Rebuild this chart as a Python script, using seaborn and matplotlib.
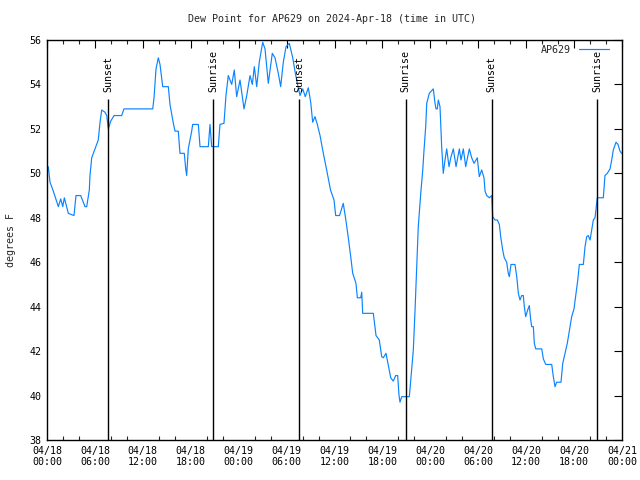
import numpy as np
import pandas as pd
import matplotlib
matplotlib.use("Agg")
import matplotlib.pyplot as plt
import matplotlib.dates as mdates
import seaborn as sns

# ---- data (hours since 2024-04-18 00:00 UTC, dew point in F) ----
hours = [0.16, 0.38, 0.79, 1.42, 1.72, 1.97, 2.17, 2.38, 2.67, 3.38, 3.63, 4.22, 4.76, 4.97,
         5.30, 5.38, 5.60, 6.01, 6.42, 6.64, 6.85, 7.26, 7.48, 7.68, 7.98, 8.39, 9.35, 9.64,
         13.24, 13.40, 13.65, 13.94, 14.15, 14.36, 14.49, 15.19, 15.40, 15.82, 16.03, 16.44,
         16.65, 17.19, 17.37, 17.49, 17.69, 18.12, 18.24, 18.95, 19.16, 20.20, 20.41, 20.62,
         21.45, 21.66, 22.16, 22.41, 22.70, 23.13, 23.45, 23.75, 24.17, 24.67, 25.01, 25.42,
         25.71, 25.96, 26.26, 26.58, 27.01, 27.30, 27.71, 28.21, 28.55, 28.96, 29.26, 29.59,
         29.93, 30.34, 30.77, 31.05, 31.34, 31.68, 32.02, 32.34, 32.72, 33.02, 33.27, 33.56,
         33.85, 34.19, 34.60, 35.02, 35.50, 35.94, 36.15, 36.63, 37.10, 37.42, 37.73, 38.03,
         38.28, 38.69, 38.86, 39.28, 39.41, 39.53, 40.86, 41.20, 41.61, 41.91, 42.11, 42.45,
         42.74, 43.04, 43.36, 43.66, 43.91, 44.08, 44.20, 44.42, 45.37, 45.58, 45.87, 46.08,
         46.29, 46.49, 46.80, 47.05, 47.21, 47.42, 47.55, 47.87, 48.37, 48.59, 48.71, 48.87,
         49.00, 49.21, 49.42, 49.62, 49.84, 50.05, 50.34, 50.59, 50.88, 51.22, 51.63, 51.84,
         52.13, 52.43, 52.88, 53.18, 53.47, 53.88, 54.13, 54.43, 54.72, 54.85, 55.06, 55.39,
         55.69, 55.81, 56.10, 56.39, 56.64, 56.81, 57.06, 57.26, 57.56, 57.76, 57.89, 58.10,
         58.60, 58.82, 59.02, 59.23, 59.44, 59.64, 59.77, 59.94, 60.19, 60.39, 60.57, 60.69,
         60.90, 61.02, 61.20, 61.95, 62.15, 62.45, 63.20, 63.40, 63.61, 63.82, 64.36, 64.58,
         64.86, 65.15, 65.40, 65.70, 65.99, 66.24, 66.46, 66.66, 67.16, 67.37, 67.58, 67.78,
         68.00, 68.21, 68.41, 68.62, 68.83, 68.91, 69.66, 69.87, 70.16, 70.50, 70.71, 70.91,
         71.25, 71.50, 71.75, 71.94]
dewpoint = [50.3, 49.6, 49.2, 48.5, 48.85, 48.5, 48.9, 48.6, 48.2, 48.1, 49.0, 49.0, 48.5, 48.5,
            49.25, 49.9, 50.7, 51.1, 51.5, 52.3, 52.85, 52.75, 52.6, 52.0, 52.35, 52.6, 52.6, 52.9,
            52.9, 53.4, 54.7, 55.2, 54.9, 54.3, 53.9, 53.9, 53.1, 52.25, 51.9, 51.9,
            50.9, 50.9, 50.2, 49.9, 51.1, 51.9, 52.2, 52.2, 51.2, 51.2, 52.2, 51.2,
            51.2, 52.2, 52.25, 53.5, 54.4, 54.0, 54.65, 53.45, 54.2, 52.9, 53.5, 54.4,
            54.0, 54.8, 53.9, 55.0, 55.9, 55.6, 54.05, 55.4, 55.2, 54.5, 53.9, 55.0,
            55.7, 55.85, 55.2, 54.6, 54.05, 53.5, 53.8, 53.45, 53.85, 53.2, 52.3, 52.55,
            52.2, 51.7, 50.9, 50.15, 49.25, 48.8, 48.1, 48.1, 48.65, 47.9, 47.1, 46.25,
            45.5, 45.05, 44.4, 44.4, 44.65, 43.7, 43.7, 42.7, 42.5, 41.75, 41.7, 41.9,
            41.35, 40.8, 40.65, 40.9, 40.9, 40.0, 39.7, 39.95, 39.95, 40.85, 42.05, 43.8,
            45.8, 47.6, 49.1, 50.15, 51.05, 52.1, 53.15, 53.6, 53.8, 53.15, 52.9, 52.9,
            53.3, 53.0, 51.2, 50.0, 50.6, 51.1, 50.3, 50.75, 51.1, 50.3, 51.1, 50.6,
            51.1, 50.3, 51.1, 50.7, 50.45, 50.7, 49.85, 50.15, 49.8, 49.2, 49.0, 48.9,
            49.0, 48.05, 47.9, 47.9, 47.7, 47.15, 46.55, 46.2, 46.0, 45.5, 45.35, 45.9,
            45.9, 45.35, 44.6, 44.3, 44.5, 44.5, 44.0, 43.55, 43.85, 44.05, 43.4, 43.1,
            43.1, 42.35, 42.1, 42.1, 41.65, 41.4, 41.4, 40.85, 40.4, 40.6, 40.6, 41.45,
            41.9, 42.35, 42.9, 43.55, 43.9, 44.6, 45.2, 45.9, 45.9, 46.7, 47.15, 47.2,
            47.0, 47.45, 47.9, 48.0, 48.65, 48.9, 48.9, 49.9, 50.0, 50.2, 50.6, 51.05,
            51.4, 51.3, 51.0, 50.9]

event_hours = [7.68, 20.83, 31.60, 44.90, 55.69, 68.91]
event_labels = ["Sunset", "Sunrise", "Sunset", "Sunrise", "Sunset", "Sunrise"]

station = "AP629"
title = "Dew Point for AP629 on 2024-Apr-18 (time in UTC)"
ylabel = "degrees F"

# ---- build ----
base = pd.Timestamp("2024-04-18 00:00")
df = pd.DataFrame({
    "time": base + pd.to_timedelta(hours, unit="h"),
    "dewpoint": dewpoint,
})
ev_times = base + pd.to_timedelta(event_hours, unit="h")

sns.set_theme(style="white")
plt.rcParams["font.family"] = ["DejaVu Sans Mono", "DejaVu Sans"]
fs = 7.2

fig = plt.figure(figsize=(6.4, 4.8), dpi=100)
ax = fig.add_axes([47 / 640, 1 - 440 / 480, 575 / 640, 400 / 480])

sns.lineplot(data=df, x="time", y="dewpoint", ax=ax, color="#0a84ff", lw=0.85,
             label=station)

line_top = 53.35
for t, lab in zip(ev_times, event_labels):
    ax.vlines(t, 38, line_top, color="black", lw=1.0, zorder=3)
    ax.text(t, line_top + 0.3, lab, rotation=90, ha="center", va="bottom",
            fontsize=fs, color="black")

ax.set_xlim(base, base + pd.Timedelta(hours=72))
ax.set_ylim(38, 56)
ax.set_yticks(np.arange(38, 57, 2))
ax.xaxis.set_major_locator(mdates.HourLocator(byhour=[0, 6, 12, 18]))
ax.xaxis.set_minor_locator(mdates.HourLocator(interval=2))
ax.xaxis.set_major_formatter(mdates.DateFormatter("%m/%d\n%H:%M"))

ax.tick_params(axis="both", which="major", direction="in", length=6, width=0.8,
               top=True, right=True, labelsize=fs, colors="black", pad=4)
ax.tick_params(axis="x", which="minor", direction="in", length=3, width=0.8,
               top=True, bottom=True)
for lbl in ax.get_xticklabels():
    lbl.set_horizontalalignment("center")

for s in ax.spines.values():
    s.set_color("black")
    s.set_linewidth(1.0)

ax.set_xlabel("")
ax.set_ylabel(ylabel, fontsize=fs, labelpad=10)
fig.text(332 / 640, 1 - 19 / 480, title, ha="center", va="center", fontsize=fs)

leg = ax.legend(loc="upper right", frameon=False, markerfirst=False, fontsize=fs,
                handlelength=3.0, handletextpad=0.8, borderaxespad=0.6,
                bbox_to_anchor=(1 - 3 / 575, 1 + 5 / 400))

fig.savefig("out.png", dpi=100)
